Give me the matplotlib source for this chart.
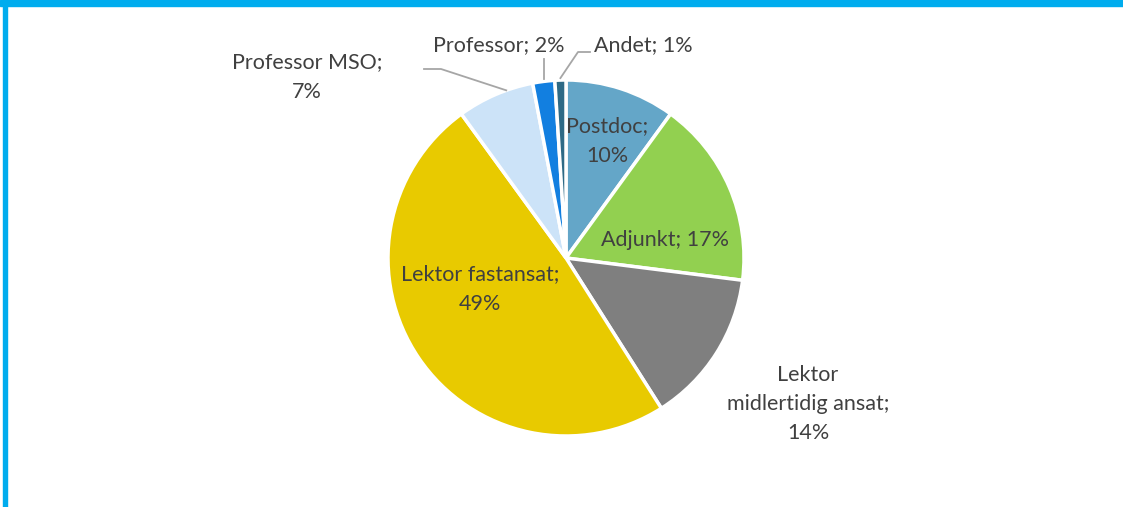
import numpy as np
import matplotlib.pyplot as plt
from matplotlib.patches import Rectangle

# data
labels = ["Postdoc", "Adjunkt", "Lektor\nmidlertidig ansat", "Lektor fastansat",
          "Professor MSO", "Professor", "Andet"]
shares = [10, 17, 14, 49, 7, 2, 1]
colors = ["#64A6C8", "#92D050", "#7F7F7F", "#E8CA00", "#CCE3F8", "#127FE0", "#2E6A86"]

W, H = 1123, 507
plt.rcParams['font.family'] = ['Lato', 'DejaVu Sans']
txt_col = "#404040"

fig = plt.figure(figsize=(W / 100, H / 100), dpi=100)
ax = fig.add_axes([0, 0, 1, 1])

cx, cy, R = 566, H - 258, 178
wedges, _ = ax.pie(shares, colors=colors, startangle=90, counterclock=False,
                   center=(cx, cy), radius=R, frame=True,
                   wedgeprops=dict(edgecolor="white", linewidth=2.5))
ax.set_xlim(0, W)
ax.set_ylim(0, H)
ax.set_aspect("equal")
ax.axis("off")

# label text positions (pixels from top-left)
pos = [(607, 141), (665, 240), (808, 404), (480, 289), (307, 77), (499, 45), (643, 45)]
for lab, v, (x, y) in zip(labels, shares, pos):
    if lab in ("Postdoc", "Lektor fastansat", "Professor MSO", "Lektor\nmidlertidig ansat"):
        s = f"{lab};\n{v}%"
    else:
        s = f"{lab}; {v}%"
    ax.text(x, H - y, s, ha="center", va="center", fontsize=15.5, color=txt_col,
            linespacing=1.58)

# leader lines for small outside labels
def edge_pt(i, frac=0.5):
    w = wedges[i]
    a = np.deg2rad(w.theta1 + (w.theta2 - w.theta1) * frac)
    return cx + R * np.cos(a), cy + R * np.sin(a)

lc = "#A6A6A6"
x0, y0 = edge_pt(4, 0.35)
ax.plot([424, 441, x0], [H - 69, H - 69, y0], color=lc, lw=1.3)
x1, y1 = edge_pt(5)
ax.plot([x1, x1], [H - 59, y1 + 2], color=lc, lw=1.3)
x2, y2 = edge_pt(6)
ax.plot([590, 578, x2], [H - 52, H - 52, y2 + 2], color=lc, lw=1.3)

# frame bars
fig.patches.append(Rectangle((0, 1 - 6 / H), 1, 6 / H, transform=fig.transFigure,
                             color="#00ACEE", zorder=5))
fig.patches.append(Rectangle((3 / W, 0), 4 / W, 1, transform=fig.transFigure,
                             color="#00ACEE", zorder=5))

fig.savefig("out.png", dpi=100)
